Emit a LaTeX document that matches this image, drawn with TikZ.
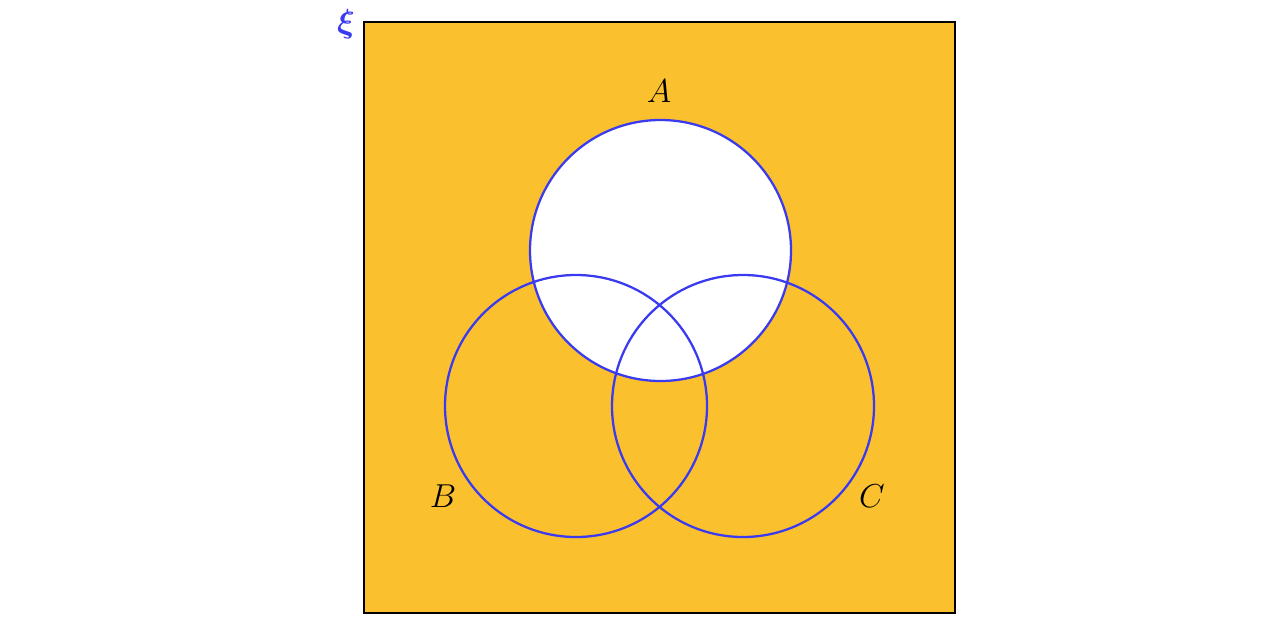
\documentclass[tikz,border=0pt]{standalone}
\usepackage{xcolor}
\usepackage{bm}
\definecolor{vyellow}{HTML}{FBC02D}
\definecolor{vblue}{RGB}{58,58,240}
\begin{document}
\begin{tikzpicture}[x=0.75pt,y=-0.75pt,
  setline/.style={draw=vblue,line width=1.7pt},
  lbl/.style={font=\fontsize{25}{30}\selectfont}]
\useasboundingbox (0,0) rectangle (1280,625);
\node[draw=black,line width=1.6pt,fill=vyellow,minimum width=591*0.75pt,minimum height=591*0.75pt,inner sep=0pt] (U) at (659.5,317.5) {};
\coordinate (cA) at (660.5,250.5);
\coordinate (cB) at (576,406);
\coordinate (cC) at (743,406);
\fill[white] (cA) circle[radius=130.5];
\draw[setline] (cA) circle[radius=130.5];
\draw[setline] (cB) circle[radius=131];
\draw[setline] (cC) circle[radius=131];
\node[lbl] (lA) at (659,91) {$A$};
\node[lbl] (lB) at (443,496) {$B$};
\node[lbl] (lC) at (872,496) {$C$};
\node[font=\fontsize{27}{32}\selectfont,text=vblue] (xi) at (346,24) {$\bm{\xi}$};
\end{tikzpicture}
\end{document}
